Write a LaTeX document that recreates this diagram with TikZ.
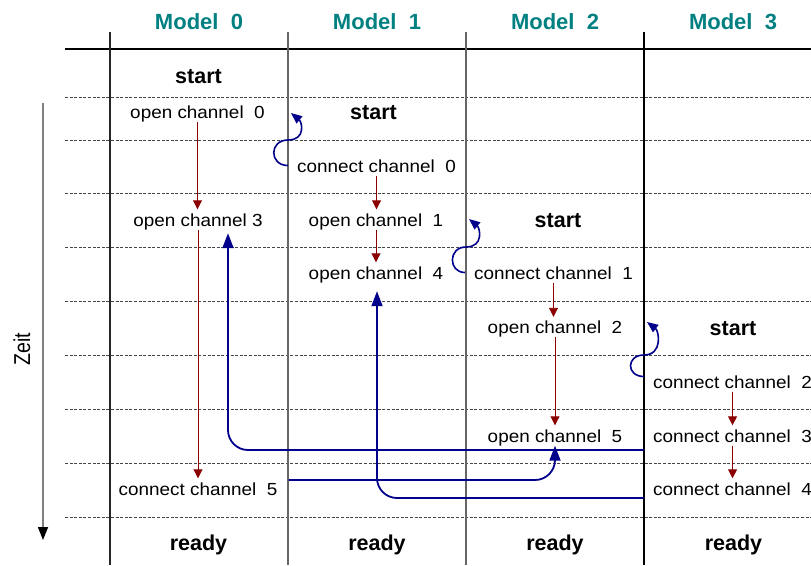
\documentclass[tikz,border=0pt]{standalone}
\usepackage{fontspec}
\setmainfont{Liberation Sans}
\newfontfamily\regf{Liberation Sans}[FakeStretch=1.08]
\newfontfamily\zeitf{Liberation Sans}[FakeStretch=0.85]
\usetikzlibrary{arrows.meta,calc}
\definecolor{headteal}{RGB}{0,128,128}
\definecolor{arrred}{RGB}{139,0,0}
\definecolor{arrblue}{RGB}{0,0,139}
\definecolor{dashgray}{RGB}{70,70,70}
\tikzset{
  lbl/.style={font=\regf\fontsize{17.5}{20}\selectfont, anchor=base, inner xsep=9pt, inner ysep=0pt, text height=16.5pt, text depth=3.5pt},
  lblw/.style={lbl, anchor=base west},
  boldlbl/.style={font=\bfseries\fontsize{21.5}{24}\selectfont, anchor=base, inner sep=0pt},
  headlbl/.style={font=\bfseries\fontsize{22}{26}\selectfont, text=headteal, anchor=base, inner sep=0pt},
  rowline/.style={draw=dashgray, line width=0.9pt, dash pattern=on 3pt off 1.6pt},
  colline/.style={line width=1.4pt},
  redarr/.style={draw=arrred, line width=0.9pt, -{Triangle[length=9pt,width=9pt]}},
  bluearr/.style={draw=arrblue, line width=1.8pt, rounded corners=20pt, -{Triangle[length=15pt,width=11pt]}},
  curlyarr/.style={draw=arrblue, line width=1.6pt, -{Triangle[length=11pt,width=9pt]}},
  timearr/.style={draw=gray, line width=1.6pt, -{Triangle[length=13pt,width=10pt,color=black]}}
}
\begin{document}
\begin{tikzpicture}[x=1pt,y=-1pt]
\useasboundingbox (0,0) rectangle (811,565);
% grid
\draw[black, line width=1.4pt] (65,49) -- (811,49);
\foreach \yy in {97,140,193,247,301,355,409,463,517}
  \draw[rowline] (65,\yy) -- (811,\yy);
\draw[colline, draw=black!85] (110,32) -- (110,565);
\draw[colline, draw=black!60] (288,32) -- (288,565);
\draw[colline, draw=black!60] (466,32) -- (466,565);
\draw[colline, draw=black] (644,32) -- (644,565);
% headers
\node[headlbl] (h0) at (199,29) {Model~~0};
\node[headlbl] (h1) at (377,29) {Model~~1};
\node[headlbl] (h2) at (555,29) {Model~~2};
\node[headlbl] (h3) at (733,29) {Model~~3};
% time axis
\coordinate (ta) at (43,103);
\coordinate (tb) at (43,540);
\draw[timearr] (ta) -- (tb);
\node[font=\zeitf\fontsize{23}{25}\selectfont, rotate=90, inner sep=0pt] (zeit) at (22,349) {Zeit};
% column 0
\node[boldlbl] (s0) at (198.5,83) {start};
\node[lbl] (o0) at (197.5,118.5) {open channel~~0};
\node[lbl] (o3) at (198,226) {open channel 3};
\node[lbl] (c5) at (198,495) {connect channel~~5};
\node[boldlbl] (r0) at (198.5,550) {ready};
% column 1
\node[boldlbl] (s1) at (373.5,119) {start};
\node[lbl] (c0) at (376.5,172) {connect channel~~0};
\node[lbl] (o1) at (376,226) {open channel~~1};
\node[lbl] (o4) at (376,279) {open channel~~4};
\node[boldlbl] (r1) at (377,550) {ready};
% column 2
\node[boldlbl] (s2) at (558,227) {start};
\node[lbl] (c1) at (553.5,279) {connect channel~~1};
\node[lbl] (o2) at (555,333.5) {open channel~~2};
\node[lbl] (o5) at (555,442) {open channel~~5};
\node[boldlbl] (r2) at (555,550) {ready};
% column 3
\node[boldlbl] (s3) at (733,335) {start};
\node[lblw] (c2) at (644,388) {connect channel~~2};
\node[lblw] (c3) at (644,442) {connect channel~~3};
\node[lblw] (c4) at (644,495) {connect channel~~4};
\node[boldlbl] (r3) at (733.5,550) {ready};
% red arrows
\draw[redarr] (o0.south) -- (o0.south |- o3.north);
\draw[redarr] (o3.south) -- (o3.south |- c5.north);
\draw[redarr] (c0.south) -- (c0.south |- o1.north);
\draw[redarr] (o1.south) -- (o1.south |- o4.north);
\draw[redarr] (c1.south) -- (c1.south |- o2.north);
\draw[redarr] (o2.south) -- (o2.south |- o5.north);
\draw[redarr] (c2.south) -- (c2.south |- c3.north);
\draw[redarr] (c3.south) -- (c3.south |- c4.north);
% curly arrows
\coordinate (t1) at (291,113);
\coordinate (t2) at (469,219);
\coordinate (t3) at (647,322);
\draw[curlyarr] (c0.west) .. controls (269,165.5) and (269,140) .. (288,140) .. controls (306,140) and (302,122) .. (t1);
\draw[curlyarr] (c1.west) .. controls (448,272.5) and (448,247) .. (466,247) .. controls (484,247) and (480,228) .. (t2);
\draw[curlyarr] ([yshift=5pt]c2.west) .. controls (626,376.5) and (626,355) .. (644,355) .. controls (663,355) and (659,331) .. (t3);
% long blue arrows
\draw[bluearr] ([yshift=-14.5pt]c3.west) -| ([xshift=30pt,yshift=-3.5pt]o3.south);
\draw[bluearr] ([yshift=-9.5pt]c4.west) -| ([xshift=1pt,yshift=-8.5pt]o4.south);
\draw[bluearr] ([xshift=2pt,yshift=8.5pt]c5.east) -| (o5.south);
\end{tikzpicture}
\end{document}
